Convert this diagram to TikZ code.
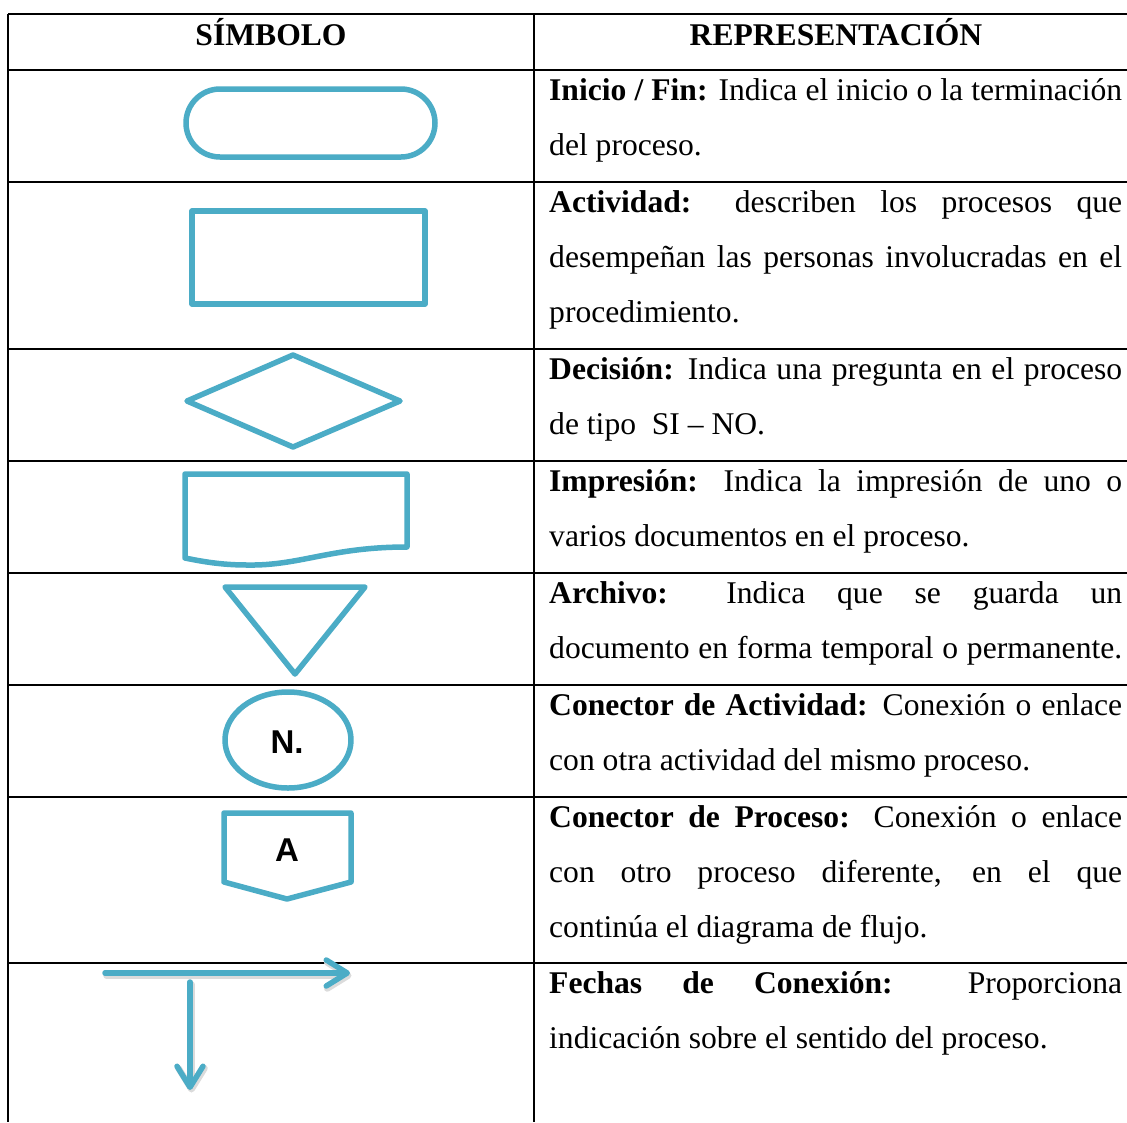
\documentclass[tikz,border=0pt]{standalone}
\usepackage{fontspec}
\setmainfont{Liberation Serif}
\newfontfamily\symfont{Liberation Sans}
\usetikzlibrary{arrows.meta}
\definecolor{symblue}{RGB}{75,172,198}

\newcommand\jline[3]{\node[txt] (#1) at #2 {\makebox[573pt][s]{#3}};}
\newcommand\lline[3]{\node[txt] (#1) at #2 {#3};}

\begin{document}
\begin{tikzpicture}[x=1pt,y=-1pt,
  rule/.style={line width=2.2pt,black},
  sym/.style={line width=5.5pt,symblue,line join=round,line cap=round},
  txt/.style={anchor=base west,inner sep=0pt,font=\fontsize{31.6}{55}\selectfont},
  head/.style={anchor=base,inner sep=0pt,font=\fontsize{31.6}{55}\selectfont\bfseries},
  symtext/.style={inner sep=0pt,font=\fontsize{33}{38}\symfont\bfseries},
  flow/.style={line width=5.5pt,symblue,line cap=round,
    -{Straight Barb[length=21pt,width=26pt,line cap=round,line join=round]}},
  flowshadow/.style={line width=6.5pt,black!14,line cap=round,
    -{Straight Barb[length=21pt,width=26pt,line cap=round,line join=round]}}]
\useasboundingbox (0,0) rectangle (1127,1122);
\fill[white] (0,0) rectangle (1127,1122);

% table grid
\foreach \y in {14,70,182,349,461,573,685,797,963}
  \draw[rule] (8,\y) -- (1127,\y);
\draw[rule] (8,14) -- (8,1122);
\draw[rule] (534,14) -- (534,1122);

% column headings
\node[head] (hsym) at (271,45) {SÍMBOLO};
\node[head] (hrep) at (836,45) {REPRESENTACIÓN};

% terminal
\draw[sym,rounded corners=34pt] (186,89) rectangle (435,157);
% activity
\draw[sym,line cap=butt] (192,211) rectangle (425,304);
% decision
\draw[sym] (187,401) -- (293,355) -- (400,401) -- (293,447) -- cycle;
% printed document
\draw[sym] (185,558) -- (185,474) -- (407,474) -- (407,547)
  .. controls (330,547) and (300,566) .. (247,565)
  .. controls (220,565) and (200,561) .. (185,558);
% file
\draw[sym] (225,587) -- (365,587) -- (295,674) -- cycle;
% activity connector
\draw[sym] (288,740) ellipse [x radius=63, y radius=48];
\node[symtext] (nconn) at (287,742) {N.};
% process connector
\draw[sym] (224,813) -- (351,813) -- (351,882) -- (287,899) -- (224,882) -- cycle;
\node[symtext] (aconn) at (287,850) {A};

% connection arrows
\coordinate (hs) at (105,973);
\coordinate (he) at (350,973);
\coordinate (vs) at (190,982);
\coordinate (ve) at (190,1090);
\draw[flowshadow] ([shift={(1.5,2.5)}]hs) -- ([shift={(1.5,2.5)}]he);
\draw[flowshadow] ([shift={(1.5,2.5)}]vs) -- ([shift={(1.5,2.5)}]ve);
\draw[flow] (hs) -- (he);
\draw[flow] (vs) -- (ve);

% descriptions
\jline{r1a}{(549,100)}{\textbf{Inicio / Fin:} Indica el inicio o la terminación}
\lline{r1b}{(549,155)}{del proceso.}

\jline{r2a}{(549,212)}{\textbf{Actividad:} describen los procesos que}
\jline{r2b}{(549,267)}{desempeñan las personas involucradas en el}
\lline{r2c}{(549,322)}{procedimiento.}

\jline{r3a}{(549,379)}{\textbf{Decisión:} Indica una pregunta en el proceso}
\lline{r3b}{(549,434)}{de tipo\ \ SI – NO.}

\jline{r4a}{(549,491)}{\textbf{Impresión:} Indica la impresión de uno o}
\lline{r4b}{(549,546)}{varios documentos en el proceso.}

\jline{r5a}{(549,603)}{\textbf{Archivo:} Indica que se guarda un}
\jline{r5b}{(549,658)}{documento en forma temporal o permanente.}

\jline{r6a}{(549,715)}{\textbf{Conector de Actividad:} Conexión o enlace}
\lline{r6b}{(549,770)}{con otra actividad del mismo proceso.}

\jline{r7a}{(549,827)}{\textbf{Conector de Proceso:} Conexión o enlace}
\jline{r7b}{(549,882)}{con otro proceso diferente, en el que}
\lline{r7c}{(549,937)}{continúa el diagrama de flujo.}

\jline{r8a}{(549,993)}{\textbf{Fechas de Conexión:} Proporciona}
\lline{r8b}{(549,1048)}{indicación sobre el sentido del proceso.}
\end{tikzpicture}
\end{document}
